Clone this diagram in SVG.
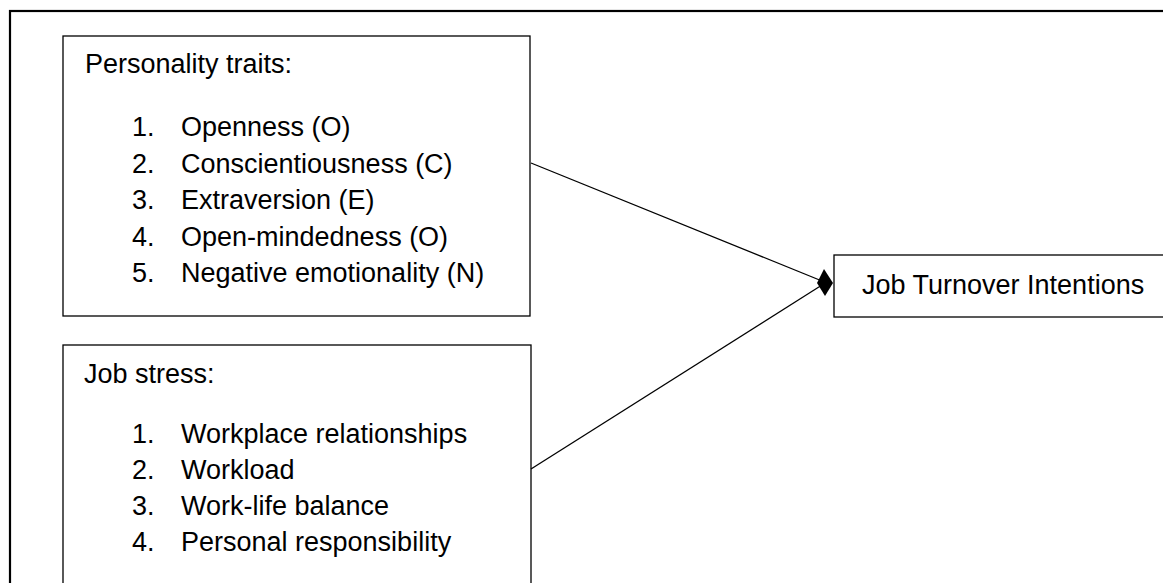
<svg xmlns="http://www.w3.org/2000/svg" width="1163" height="583" viewBox="0 0 1163 583">
<style>
.frame{fill:#fff;stroke:#000;stroke-width:2.2}
.box{fill:#fff;stroke:#000;stroke-width:1.3}
.t{font-family:"Liberation Sans",Arial,sans-serif;font-size:27px;fill:#000}
.conn{stroke:#000;stroke-width:1.3;fill:none}
.head{fill:#000;stroke:none}
</style>
<rect x="0" y="0" width="1163" height="583" fill="#fff"/>
<rect class="frame" x="10" y="11" width="1200" height="620"/>
<g id="personality">
<rect class="box" x="63" y="36" width="467" height="280"/>
<text class="t" x="85" y="73">Personality traits:</text>
<text class="t" x="132" y="136">1.</text><text class="t" x="181" y="136">Openness (O)</text>
<text class="t" x="132" y="172.5">2.</text><text class="t" x="181" y="172.5">Conscientiousness (C)</text>
<text class="t" x="132" y="209">3.</text><text class="t" x="181" y="209">Extraversion (E)</text>
<text class="t" x="132" y="245.5">4.</text><text class="t" x="181" y="245.5">Open-mindedness (O)</text>
<text class="t" x="132" y="282">5.</text><text class="t" x="181" y="282">Negative emotionality (N)</text>
</g>
<g id="jobstress">
<rect class="box" x="63" y="345" width="468" height="280"/>
<text class="t" x="84" y="383">Job stress:</text>
<text class="t" x="132" y="443">1.</text><text class="t" x="181" y="443">Workplace relationships</text>
<text class="t" x="132" y="479">2.</text><text class="t" x="181" y="479">Workload</text>
<text class="t" x="132" y="515">3.</text><text class="t" x="181" y="515">Work-life balance</text>
<text class="t" x="132" y="551">4.</text><text class="t" x="181" y="551">Personal responsibility</text>
</g>
<g id="turnover">
<rect class="box" x="834" y="255" width="340" height="62"/>
<text class="t" x="862" y="294">Job Turnover Intentions</text>
</g>
<g id="connectors">
<line class="conn" x1="531" y1="163" x2="822" y2="281"/>
<line class="conn" x1="531" y1="469" x2="822" y2="285"/>
<polygon class="head" points="817,283 824,269 833,283 825,296"/>
</g>
</svg>
